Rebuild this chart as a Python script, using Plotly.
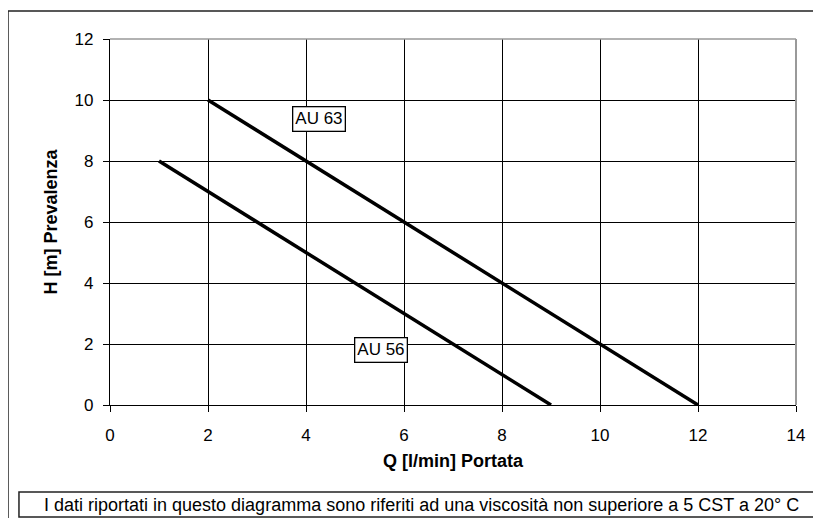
import plotly.graph_objects as go

q_au63 = [2, 12]
h_au63 = [10, 0]
q_au56 = [1, 9]
h_au56 = [8, 0]
labels = ["AU 63", "AU 56"]
label_x = [4.27, 5.53]
label_y = [9.38, 1.80]
x_ticks = [0, 2, 4, 6, 8, 10, 12, 14]
y_ticks = [0, 2, 4, 6, 8, 10, 12]
note = "I dati riportati in questo diagramma sono riferiti ad una viscosità non superiore a 5 CST a 20° C"

FONT = "Liberation Sans, Arial, sans-serif"

fig = go.Figure()
for q, h, name in [(q_au63, h_au63, labels[0]), (q_au56, h_au56, labels[1])]:
    fig.add_trace(go.Scatter(x=q, y=h, mode="lines", name=name,
                             line=dict(color="black", width=3.5), showlegend=False))

for lx, ly, txt in zip(label_x, label_y, labels):
    fig.add_annotation(x=lx, y=ly, text=txt, showarrow=False, xref="x", yref="y",
                       font=dict(family=FONT, size=17, color="black"),
                       bgcolor="white", bordercolor="black", borderwidth=1.3, borderpad=2)

fig.add_annotation(x=0.4534, y=-0.272, xref="paper", yref="paper", text=note, showarrow=False,
                   font=dict(family=FONT, size=18, color="black"), xanchor="center", yanchor="middle")

# outer frame
fig.add_shape(type="rect", xref="paper", yref="paper", x0=-0.1487, x1=1.08, y0=-0.40, y1=1.0765,
              line=dict(color="#222", width=1.5), layer="below")
# note box
fig.add_shape(type="rect", xref="paper", yref="paper", x0=-0.1327, x1=1.08, y0=-0.306, y1=-0.2377,
              line=dict(color="#222", width=1.5))
# top and right border of plot (grey)
fig.add_shape(type="line", xref="paper", yref="paper", x0=0, x1=1, y0=1, y1=1,
              line=dict(color="#999", width=1.5))
fig.add_shape(type="line", xref="paper", yref="paper", x0=1, x1=1, y0=0, y1=1,
              line=dict(color="#999", width=2))

fig.update_xaxes(range=[0, 14], tickvals=x_ticks, ticks="outside", ticklen=6, tickcolor="black",
                 showgrid=True, gridcolor="black", gridwidth=1, showline=True, linecolor="black",
                 linewidth=1.3, zeroline=False, ticklabelstandoff=8,
                 tickfont=dict(family=FONT, size=17, color="black"),
                 title=dict(text="<b>Q [l/min] Portata</b>", font=dict(family=FONT, size=18, color="black"),
                            standoff=10))
fig.update_yaxes(range=[0, 12], tickvals=y_ticks, ticks="outside", ticklen=6, tickcolor="black",
                 showgrid=True, gridcolor="black", gridwidth=1, showline=True, linecolor="black",
                 linewidth=1.3, zeroline=False, ticklabelstandoff=6,
                 tickfont=dict(family=FONT, size=17, color="black"),
                 title=dict(text="<b>H [m] Prevalenza</b>", font=dict(family=FONT, size=18, color="black"),
                            standoff=12))

fig.update_layout(width=813, height=510, margin=dict(l=102, r=25, t=31, b=113),
                  plot_bgcolor="white", paper_bgcolor="white", showlegend=False)

fig.write_html("out.html")
